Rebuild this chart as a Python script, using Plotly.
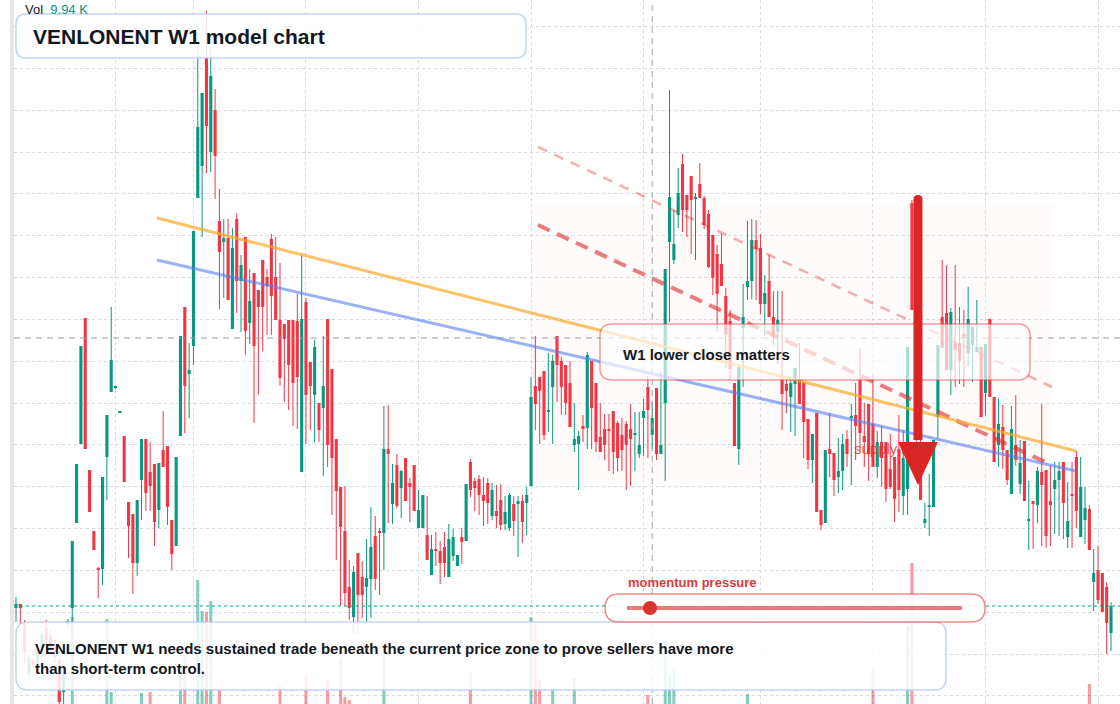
import plotly.graph_objects as go

# ---------------- data (weekly candles, price units) ----------------
OPEN = [392, 396, 376, 326, 340, 332, 345, 372, 364, 356,
        340, 308, 376, 392, 477, 556, 682, 530, 469, 432,
        431, 543, 608, 612, 587, 564, 498, 486, 437, 520,
        561, 528, 536, 490, 550, 554, 480, 454, 564, 693,
        626, 654, 802, 834, 943, 848, 890, 779, 758, 762,
        671, 781, 719, 763, 677, 727, 710, 740, 723, 761,
        723, 680, 676, 680, 680, 679, 528, 698, 638, 605,
        597, 592, 681, 631, 561, 513, 469, 413, 383, 447,
        423, 413, 421, 464, 469, 467, 551, 496, 535, 512,
        542, 517, 535, 472, 472, 465, 425, 451, 449, 453,
        423, 444, 434, 463, 459, 538, 519, 521, 505, 517,
        484, 489, 500, 476, 472, 496, 496, 499, 497, 514,
        614, 623, 629, 588, 613, 664, 639, 635, 617, 555,
        556, 574, 572, 639, 617, 563, 571, 571, 589, 577,
        565, 576, 571, 565, 546, 582, 613, 565, 612, 546,
        597, 758, 740, 785, 836, 805, 824, 801, 816, 802,
        786, 765, 746, 736, 704, 679, 617, 551, 672, 713,
        719, 760, 752, 696, 719, 683, 668, 621, 616, 603,
        616, 621, 618, 581, 540, 587, 490, 477, 551, 547,
        523, 529, 561, 582, 585, 621, 564, 596, 576, 533,
        558, 558, 531, 543, 551, 504, 511, 797, 690, 555,
        477, 493, 493, 583, 683, 687, 630, 658, 657, 666,
        647, 655, 648, 653, 607, 681, 603, 555, 573, 550,
        506, 555, 516, 559, 479, 499, 495, 528, 530, 499,
        511, 520, 538, 463, 505, 543, 463, 480, 491, 418,
        430, 427, 413, 367]

HIGH = [403, 396, 380, 345, 343, 352, 370, 380, 370, 360,
        344, 332, 381, 459, 536, 654, 682, 530, 469, 433,
        523, 585, 693, 614, 589, 564, 498, 486, 500, 561,
        561, 558, 536, 537, 589, 554, 480, 543, 664, 693,
        657, 769, 953, 907, 989, 953, 911, 811, 781, 781,
        772, 787, 745, 763, 731, 727, 710, 740, 731, 766,
        763, 737, 676, 680, 680, 706, 745, 702, 638, 660,
        597, 664, 681, 631, 561, 513, 514, 440, 434, 447,
        439, 461, 493, 484, 472, 594, 595, 536, 546, 530,
        542, 522, 535, 510, 505, 504, 465, 468, 459, 468,
        476, 471, 445, 472, 516, 541, 522, 525, 523, 522,
        517, 515, 516, 504, 507, 504, 504, 505, 513, 623,
        664, 623, 629, 647, 645, 664, 643, 635, 639, 597,
        569, 585, 648, 639, 617, 597, 586, 586, 589, 579,
        582, 579, 596, 588, 588, 601, 624, 598, 612, 628,
        731, 910, 790, 832, 846, 805, 824, 807, 837, 804,
        790, 765, 755, 767, 712, 690, 617, 633, 716, 779,
        781, 780, 766, 725, 745, 709, 709, 709, 621, 623,
        632, 657, 618, 581, 566, 587, 490, 550, 587, 547,
        562, 566, 570, 596, 617, 652, 597, 596, 625, 569,
        574, 558, 566, 543, 585, 570, 653, 800, 700, 560,
        497, 526, 560, 655, 740, 735, 692, 735, 693, 690,
        713, 673, 700, 653, 656, 681, 603, 601, 595, 550,
        594, 605, 560, 559, 519, 499, 533, 596, 530, 535,
        538, 538, 538, 518, 538, 549, 543, 513, 495, 451,
        454, 427, 418, 398]

LOW = [378, 376, 336, 320, 332, 328, 342, 350, 348, 338,
       290, 293, 374, 376, 477, 556, 551, 488, 450, 402,
       415, 500, 608, 611, 587, 518, 442, 406, 424, 480,
       489, 489, 454, 472, 533, 475, 430, 454, 564, 567,
       582, 635, 802, 763, 827, 828, 801, 691, 702, 700,
       671, 687, 668, 645, 656, 577, 605, 649, 665, 665,
       680, 614, 598, 590, 574, 571, 528, 556, 570, 558,
       558, 524, 533, 485, 440, 394, 394, 380, 367, 367,
       382, 378, 382, 410, 405, 430, 477, 476, 492, 482,
       499, 478, 489, 472, 472, 440, 425, 434, 416, 423,
       423, 439, 434, 436, 459, 503, 489, 485, 474, 476,
       480, 472, 470, 470, 469, 464, 443, 457, 465, 514,
       570, 556, 560, 568, 556, 598, 585, 585, 573, 548,
       510, 558, 551, 551, 548, 548, 540, 529, 526, 529,
       529, 510, 514, 529, 542, 544, 542, 551, 540, 546,
       519, 678, 736, 772, 768, 763, 746, 740, 802, 771,
       732, 705, 668, 714, 632, 620, 554, 535, 613, 700,
       701, 700, 686, 664, 683, 655, 636, 570, 587, 568,
       564, 596, 542, 531, 517, 488, 470, 477, 523, 504,
       507, 510, 533, 515, 540, 549, 533, 519, 533, 522,
       513, 498, 511, 478, 488, 485, 485, 690, 550, 500,
       472, 464, 493, 561, 652, 630, 605, 613, 616, 613,
       634, 618, 648, 583, 585, 603, 538, 533, 531, 515,
       506, 534, 506, 499, 450, 451, 477, 454, 452, 454,
       466, 464, 461, 452, 452, 472, 463, 456, 450, 389,
       396, 388, 346, 349]

CLOSE = [396, 392, 348, 342, 336, 348, 365, 360, 352, 343,
         298, 326, 379, 459, 536, 654, 551, 488, 450, 430,
         523, 585, 640, 613, 588, 518, 474, 437, 500, 561,
         507, 514, 478, 537, 533, 493, 446, 543, 664, 614,
         630, 769, 873, 907, 874, 924, 844, 748, 762, 700,
         752, 719, 735, 669, 699, 654, 693, 693, 714, 704,
         680, 622, 661, 635, 617, 623, 681, 605, 614, 653,
         570, 614, 555, 542, 509, 473, 407, 392, 428, 405,
         405, 422, 453, 421, 467, 551, 546, 517, 494, 529,
         499, 513, 489, 490, 505, 440, 451, 449, 437, 437,
         461, 463, 445, 458, 516, 510, 512, 505, 499, 497,
         510, 484, 475, 488, 505, 479, 499, 478, 505, 603,
         596, 609, 565, 589, 639, 635, 613, 597, 573, 561,
         564, 571, 645, 592, 558, 548, 555, 569, 548, 542,
         550, 555, 561, 567, 555, 589, 590, 582, 546, 555,
         731, 803, 756, 807, 790, 790, 800, 802, 802, 775,
         733, 722, 706, 714, 666, 631, 554, 633, 683, 719,
         760, 751, 696, 707, 683, 663, 680, 606, 609, 617,
         632, 596, 578, 540, 566, 488, 475, 550, 546, 520,
         529, 556, 546, 583, 574, 567, 558, 546, 533, 558,
         542, 511, 513, 501, 510, 542, 653, 690, 560, 500,
         481, 494, 560, 655, 652, 630, 688, 650, 639, 661,
         681, 673, 653, 583, 656, 603, 538, 576, 550, 520,
         571, 540, 537, 499, 480, 496, 529, 515, 464, 495,
         520, 529, 497, 479, 504, 489, 513, 492, 450, 427,
         400, 388, 377, 394]

VOLUME = [4.1, 3.2, 6.5, 5.0, 2.8, 4.4, 7.2, 5.9, 3.6, 4.8, 8.1, 6.3, 3.9, 82.5, 7.7, 9.1, 8.8, 6.2, 5.4, 3.1,
          6.8, 80.8, 20.0, 4.2, 2.9, 7.4, 5.5, 8.3, 6.0, 19.2, 5.1, 20.0, 7.0, 4.6, 3.8, 6.7, 5.2, 8.9, 42.5, 50.8,
          4.3, 9.2, 113.3, 87.5, 86.7, 95.8, 8.4, 24.2, 5.6, 7.9, 6.4, 8.0, 4.7, 9.0, 3.5, 7.3, 5.8, 6.1, 4.0, 8.6,
          7.1, 25.0, 5.3, 6.9, 8.2, 4.5, 9.4, 35.0, 5.7, 6.6, 4.9, 7.6, 30.0, 8.7, 9.3, 47.5, 15.8, 13.3, 6.2, 5.0,
          4.4, 7.8, 8.5, 6.3, 3.7, 51.7, 7.5, 5.2, 4.1, 6.0, 5.4, 3.3, 7.0, 4.8, 6.5, 8.0, 5.9, 3.0, 4.6, 5.1,
          6.7, 4.2, 3.6, 4.9, 8.8, 36.7, 5.5, 4.3, 6.1, 3.9, 5.0, 4.4, 6.9, 3.4, 5.7, 4.0, 6.3, 5.2, 7.4, 82.5,
          78.3, 29.2, 9.1, 6.6, 21.7, 8.1, 6.4, 7.2, 8.9, 31.7, 5.3, 4.7, 9.5, 7.0, 6.2, 5.8, 4.5, 3.9, 6.8, 5.6,
          4.9, 6.1, 5.0, 3.6, 4.4, 7.3, 17.5, 5.9, 8.4, 6.0, 63.3, 32.5, 40.0, 7.7, 8.3, 6.5, 7.1, 5.4, 6.9, 5.8,
          8.0, 7.4, 8.7, 6.3, 7.9, 6.6, 9.2, 8.5, 7.0, 18.3, 7.8, 6.2, 8.1, 5.5, 6.8, 5.1, 6.4, 8.6, 4.8, 5.9,
          6.1, 7.3, 8.2, 7.6, 6.0, 9.0, 6.7, 8.4, 5.3, 6.9, 4.7, 5.6, 4.9, 6.2, 5.8, 7.5, 5.0, 7.1, 38.3, 6.3,
          5.7, 7.8, 6.1, 8.0, 7.2, 8.8, 75.0, 127.5, 9.6, 8.3, 5.5, 4.6, 7.0, 8.7, 7.9, 8.2, 6.8, 5.9, 6.5, 5.2,
          7.1, 5.6, 4.9, 7.7, 6.4, 8.1, 8.5, 6.0, 5.8, 6.7, 7.4, 6.2, 5.3, 7.6, 5.0, 4.5, 6.6, 7.2, 8.0, 5.4,
          5.1, 4.8, 6.9, 5.7, 4.4, 7.5, 6.3, 5.9, 26.7, 8.4, 7.0, 8.9, 9.7, 9.94]

# time-grid bars (half-year marks) and drawing levels
TIME_GRID_BARS = [23, 41, 67, 93, 119, 145, 172, 198, 224, 250]
ORANGE_X, ORANGE_Y = [32.6, 244.9], [782, 549]
BLUE_X, BLUE_Y = [32.6, 244.9], [740, 529]
DASH_THICK_X, DASH_THICK_Y = [120.6, 237.8], [775, 538]
DASH_THIN_X, DASH_THIN_Y = [120.6, 239.4], [853, 613]
ZONE_X, ZONE_Y = [118.8, 239.4], [520, 795]
ARROW_BAR, ARROW_TOP, ARROW_HEAD_BASE, ARROW_TIP = 208.4, 805, 558, 515
SUPPLY_LABEL_X, SUPPLY_LABEL_Y = 202.9, 552
CROSS_BAR, CROSS_PRICE = 147, 662

TEAL = "#089981"
RED = "#F23645"
FONT = "Liberation Sans, Arial, sans-serif"

N = len(CLOSE)
idx = list(range(N))
up = [c >= o for o, c in zip(OPEN, CLOSE)]
colors = [TEAL if u else RED for u in up]
vcolors = ["rgba(8,153,129,0.5)" if u else "rgba(242,54,69,0.5)" for u in up]
base = [min(o, c) for o, c in zip(OPEN, CLOSE)]
height = [max(abs(c - o), 1.2) for o, c in zip(OPEN, CLOSE)]

fig = go.Figure()

# volume (main y axis, bottom layer)
fig.add_trace(go.Bar(x=idx, y=VOLUME, marker=dict(color=vcolors, line=dict(width=0)),
                     width=0.7, yaxis="y", hoverinfo="skip"))

# wicks
for want, col in ((True, TEAL), (False, RED)):
    wx, wy = [], []
    for i in idx:
        if up[i] == want:
            wx += [i, i, None]
            wy += [LOW[i], HIGH[i], None]
    fig.add_trace(go.Scatter(x=wx, y=wy, mode="lines", line=dict(color=col, width=1),
                             yaxis="y2", hoverinfo="skip"))

# bodies
fig.add_trace(go.Bar(x=idx, y=height, base=base, width=0.72,
                     marker=dict(color=colors, line=dict(width=0)), yaxis="y2", hoverinfo="skip"))

# trend lines
fig.add_trace(go.Scatter(x=DASH_THIN_X, y=DASH_THIN_Y, mode="lines",
                         line=dict(color="rgba(225,45,45,0.38)", width=2.5, dash="10px,8px"), yaxis="y2"))
fig.add_trace(go.Scatter(x=DASH_THICK_X, y=DASH_THICK_Y, mode="lines",
                         line=dict(color="rgba(225,45,45,0.62)", width=4, dash="13px,8px"), yaxis="y2"))
fig.add_trace(go.Scatter(x=ORANGE_X, y=ORANGE_Y, mode="lines",
                         line=dict(color="rgba(249,170,45,0.72)", width=3), yaxis="y2"))
fig.add_trace(go.Scatter(x=BLUE_X, y=BLUE_Y, mode="lines",
                         line=dict(color="rgba(85,125,240,0.6)", width=3), yaxis="y2"))

# ---------------- layout helpers (pixel -> paper) ----------------
L_MARGIN, W, H = 14, 1120, 704
PW = W - L_MARGIN


def PX(x):
    return (x - L_MARGIN) / PW


def PY(y):
    return 1 - y / H


def rrect(x0, y0, x1, y1, r):
    l, rr, t, b = PX(x0), PX(x1), PY(y0), PY(y1)
    rx, ry = r / PW, r / H
    return (f"M {l+rx},{t} L {rr-rx},{t} Q {rr},{t} {rr},{t-ry} L {rr},{b+ry} "
            f"Q {rr},{b} {rr-rx},{b} L {l+rx},{b} Q {l},{b} {l},{b+ry} L {l},{t-ry} Q {l},{t} {l+rx},{t} Z")


shapes = []
# left scale strip
shapes.append(dict(type="rect", xref="paper", yref="paper", x0=PX(10), x1=PX(14), y0=0, y1=1,
                   fillcolor="#e6e6e6", line=dict(width=0), layer="above"))
# zone
shapes.append(dict(type="rect", xref="x", yref="y2", x0=ZONE_X[0], x1=ZONE_X[1], y0=ZONE_Y[0], y1=ZONE_Y[1],
                   fillcolor="rgba(240,200,180,0.07)", line=dict(width=0), layer="below"))
# crosshair + last price line
shapes.append(dict(type="line", xref="paper", yref="y2", x0=0, x1=1, y0=CROSS_PRICE, y1=CROSS_PRICE,
                   line=dict(color="#9a9ca3", width=1, dash="6px,5px"), layer="above"))
shapes.append(dict(type="line", xref="x", yref="paper", x0=CROSS_BAR, x1=CROSS_BAR, y0=0, y1=1,
                   line=dict(color="#a3a5ab", width=1, dash="6px,5px"), layer="above"))
shapes.append(dict(type="line", xref="paper", yref="y2", x0=0, x1=1, y0=CLOSE[-1], y1=CLOSE[-1],
                   line=dict(color=TEAL, width=1, dash="dot"), layer="above"))
# W1 box
shapes.append(dict(type="path", xref="paper", yref="paper", path=rrect(600, 324, 1030, 380, 12),
                   fillcolor="rgba(255,255,255,0.68)", line=dict(color="rgba(230,60,60,0.5)", width=1.5),
                   layer="above"))
# arrow
PX_PER_BAR = PW / (255.08 + 0.462)
hw = 4.5 / PX_PER_BAR
hh = 20 / PX_PER_BAR
ax = ARROW_BAR
shapes.append(dict(type="path", xref="x", yref="y2",
                   path=(f"M {ax-hw},{ARROW_HEAD_BASE+2} L {ax-hw},{ARROW_TOP-4.5} Q {ax-hw},{ARROW_TOP} {ax},{ARROW_TOP} "
                         f"Q {ax+hw},{ARROW_TOP} {ax+hw},{ARROW_TOP-4.5} L {ax+hw},{ARROW_HEAD_BASE+2} Z"),
                   fillcolor="#da2525", line=dict(width=0), layer="above"))
shapes.append(dict(type="path", xref="x", yref="y2",
                   path=f"M {ax-hh},{ARROW_HEAD_BASE} L {ax+hh},{ARROW_HEAD_BASE} L {ax},{ARROW_TIP} Z",
                   fillcolor="#da2525", line=dict(width=0), layer="above"))
# title & note boxes
shapes.append(dict(type="path", xref="paper", yref="paper", path=rrect(16, 14, 526, 58, 10),
                   fillcolor="rgba(255,255,255,0.86)", line=dict(color="rgba(175,198,240,0.75)", width=1.5),
                   layer="above"))
shapes.append(dict(type="path", xref="paper", yref="paper", path=rrect(16, 622, 946, 690, 12),
                   fillcolor="rgba(255,255,255,0.86)", line=dict(color="rgba(175,198,240,0.75)", width=1.5),
                   layer="above"))
# momentum pill
shapes.append(dict(type="path", xref="paper", yref="paper", path=rrect(605, 594, 985, 622, 14),
                   fillcolor="rgba(255,255,255,0.9)", line=dict(color="rgba(230,60,60,0.6)", width=1.5),
                   layer="above"))
shapes.append(dict(type="line", xref="paper", yref="paper", x0=PX(627), x1=PX(962), y0=PY(608), y1=PY(608),
                   line=dict(color="rgba(225,70,70,0.7)", width=4), layer="above"))
shapes.append(dict(type="circle", xref="paper", yref="paper", x0=PX(643), x1=PX(657), y0=PY(615), y1=PY(601),
                   fillcolor="#e02f2f", line=dict(width=0), layer="above"))

annotations = [
    dict(xref="x", yref="y2", x=SUPPLY_LABEL_X, y=SUPPLY_LABEL_Y, xanchor="center", yanchor="middle",
         showarrow=False, text="supply zone", font=dict(family=FONT, size=15, color="rgba(222,40,40,0.78)")),
    dict(xref="paper", yref="paper", x=PX(23), y=PY(9), xanchor="left", yanchor="middle", showarrow=False,
         text=f"Vol\u00a0\u00a0<span style='color:{TEAL}'>{VOLUME[-1]:.2f} K</span>",
         font=dict(family=FONT, size=13, color="#131722")),
    dict(xref="paper", yref="paper", x=PX(31), y=PY(36), xanchor="left", yanchor="middle", showarrow=False,
         text="<b>VENLONENT W1 model chart</b>", font=dict(family=FONT, size=21, color="#131722")),
    dict(xref="paper", yref="paper", x=PX(621), y=PY(354), xanchor="left", yanchor="middle", showarrow=False,
         text="<b>W1 lower close matters</b>", font=dict(family=FONT, size=15, color="#131722")),
    dict(xref="paper", yref="paper", x=PX(33), y=PY(658), xanchor="left", yanchor="middle", showarrow=False,
         align="left",
         text="<b>VENLONENT W1 needs sustained trade beneath the current price zone to prove sellers have more"
              "<br>than short-term control.</b>",
         font=dict(family=FONT, size=15, color="#131722")),
    dict(xref="paper", yref="paper", x=PX(626), y=PY(582), xanchor="left", yanchor="middle", showarrow=False,
         text="<b>momentum pressure</b>", font=dict(family=FONT, size=13, color="#e03a3e")),
]

fig.update_layout(
    width=W, height=H,
    margin=dict(l=L_MARGIN, r=0, t=0, b=0),
    paper_bgcolor="white", plot_bgcolor="white",
    showlegend=False, hovermode=False, barmode="overlay",
    xaxis=dict(range=[-0.462, 255.08], tickmode="array", tickvals=TIME_GRID_BARS, showticklabels=False,
               ticks="", showgrid=True, gridcolor="#d6d9df", griddash="dot", gridwidth=1,
               zeroline=False, showline=False, fixedrange=True),
    yaxis=dict(range=[10, 596.667], visible=False, showgrid=False, zeroline=False, fixedrange=True),
    yaxis2=dict(range=[296, 1000], overlaying="y", side="right", tick0=973.5, dtick=41.84,
                showticklabels=False, ticks="", showgrid=True, gridcolor="#d6d9df", griddash="dot",
                gridwidth=1, zeroline=False, showline=False, fixedrange=True),
    shapes=shapes,
    annotations=annotations,
)

fig.write_html("out.html")
